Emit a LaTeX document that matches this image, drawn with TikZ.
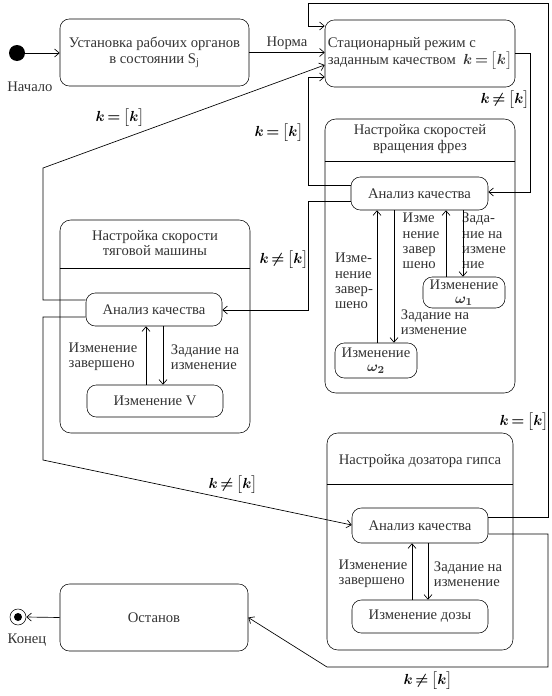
\documentclass[tikz,border=0pt]{standalone}
\usepackage{fontspec}
\setmainfont{Liberation Serif}
\usepackage{amsmath}
\usetikzlibrary{arrows.meta}
\newcommand{\keq}{{\boldmath$k\mkern-2mu=\mkern-2mu\bigl[k\bigr]$}}
\newcommand{\kne}{{\boldmath$k\mkern-2mu\neq\mkern-2mu\bigl[k\bigr]$}}

\begin{document}
\begin{tikzpicture}[x=0.75pt,y=0.75pt,yscale=-1,xscale=1,
  font=\fontsize{11}{11.5}\selectfont,
  state/.style={draw,rounded corners=7pt,inner sep=1pt,align=center,text=black!80},
  group/.style={draw,rounded corners=8pt},
  conn/.style={-{Straight Barb[length=3.5pt,width=6pt]},line width=0.5pt},
  lbl/.style={inner sep=0.75pt,align=left,text=black!80},
  guard/.style={inner sep=0.75pt}]
\useasboundingbox (0,0) rectangle (551,696);

% Initial and setup
\node[circle,fill,inner sep=0pt,minimum size=12pt] (start) at (17,53) {};
\node[lbl] (startlbl) at (30,87) {Начало};
\node[state,minimum width=141.75pt,minimum height=50.25pt] (setup) at (154.5,52.5) {Установка рабочих органов\\в состоянии S\textsubscript{j}};
\node[state,minimum width=142.5pt,minimum height=50.25pt,align=left] (steady) at (420,53.5) {Стационарный режим с\\заданным качеством\enspace\keq};

% Cutter speed group
\node[group,minimum width=142.5pt,minimum height=205.5pt] (cutgrp) at (420,256) {};
\node[lbl,align=center] (cutttl) at (420,139) {Настройка скоростей\\вращения фрез};
\draw (cutgrp.west |- 0,161) -- (cutgrp.east |- 0,161);
\node[state,minimum width=102.75pt,minimum height=24.75pt] (cutan) at (419.5,193.5) {Анализ качества};
\node[state,minimum width=61.5pt,minimum height=23.25pt,inner sep=0pt,
  font=\fontsize{11}{10.5}\selectfont] (om1) at (464,292.5) {Изменение\\{\boldmath$\omega_1$}};
\node[state,minimum width=61.5pt,minimum height=26.25pt,inner sep=0pt,
  font=\fontsize{11}{10.5}\selectfont] (om2) at (376,360.5) {Изменение\\{\boldmath$\omega_2$}};
\node[lbl] (om2done) at (354,281) {Изме-\\нение\\завер-\\шено};
\node[lbl] (om1done) at (421,241) {Изме\\нение\\завер\\шено};
\node[lbl] (om1set) at (484,241) {Зада-\\ние на\\измене\\ние};
\node[lbl] (om2set) at (435,322) {Задание на\\изменение};

% Traction machine group
\node[group,minimum width=142.5pt,minimum height=159.75pt] (tracgrp) at (155,326.5) {};
\node[lbl,align=center] (tracttl) at (155,243) {Настройка скорости\\тяговой машины};
\draw (tracgrp.west |- 0,268) -- (tracgrp.east |- 0,268);
\node[state,minimum width=102pt,minimum height=24.75pt] (tracan) at (154,309.5) {Анализ качества};
\node[state,minimum width=102pt,minimum height=24pt] (chgv) at (155,401) {Изменение V};
\node[lbl] (vdone) at (103,357) {Изменение\\завершено};
\node[lbl] (vset) at (205,357) {Задание на\\изменение};

% Gypsum dosing group
\node[group,minimum width=139.5pt,minimum height=162.75pt] (gypgrp) at (420,541.5) {};
\node[lbl] (gypttl) at (420,461) {Настройка дозатора гипса};
\draw (gypgrp.west |- 0,484) -- (gypgrp.east |- 0,484);
\node[state,minimum width=102pt,minimum height=26.25pt] (gypan) at (420,525.5) {Анализ качества};
\node[state,minimum width=102pt,minimum height=24.75pt] (dose) at (420,616.5) {Изменение дозы};
\node[lbl] (dosedone) at (373,574) {Изменение\\завершено};
\node[lbl] (doseset) at (468,574) {Задание на\\изменение};

% Stop and final
\node[state,minimum width=141pt,minimum height=50.25pt] (stop) at (154,617.5) {Останов};
\node[circle,draw,inner sep=0pt,minimum size=12pt] (finish) at (18,617) {};
\fill (finish) circle (4);
\node[lbl] (finishlbl) at (27,640) {Конец};

% Guard labels
\node[lbl] (normlbl) at (287,43) {Норма};
\node[guard] (kback) at (120,118) {\keq};
\node[guard] (kcutok) at (279,133) {\keq};
\node[guard] (ksteady) at (505,100) {\kne};
\node[guard] (kcutbad) at (284,260) {\kne};
\node[guard] (kgypok) at (524,422) {\keq};
\node[guard] (ktracbad) at (233,485) {\kne};
\node[guard] (kgypbad) at (428,681) {\kne};

% Transitions
\draw[conn] (start.east) -- (start.east -| setup.west);
\draw[conn] (setup.east) -- (setup.east -| steady.west);
\draw[conn] (gypan.east |- 0,517) -| (548,3) -| (308,26) -- (steady.west |- 0,26);
\draw[conn] (steady.east) -| (530,192) -- (cutan.east |- 0,192);
\draw[conn] (cutan.west |- 0,185) -| (308,77) -- (steady.west |- 0,77);
\draw[conn] (cutan.west |- 0,201) -| (308,310) -- (tracan.east |- 0,310);
\draw[conn] (tracan.west |- 0,300) -| (43,168) -- (steady.west |- 0,65);
\draw[conn] (tracan.west |- 0,317) -| (43,460) -- (gypan.west |- 0,525);
\draw[conn] (gypan.east |- 0,534) -| (548,667) -- (327,667) -- (stop.east);
\draw[conn] (stop.west) -- (finish.east);

% Inner transitions
\draw[conn] (463,0 |- cutan.south) -- (463,0 |- om1.north);
\draw[conn] (446,0 |- om1.north) -- (446,0 |- cutan.south);
\draw[conn] (394,0 |- cutan.south) -- (394,0 |- om2.north);
\draw[conn] (377,0 |- om2.north) -- (377,0 |- cutan.south);
\draw[conn] (163,0 |- tracan.south) -- (163,0 |- chgv.north);
\draw[conn] (146,0 |- chgv.north) -- (146,0 |- tracan.south);
\draw[conn] (428,0 |- gypan.south) -- (428,0 |- dose.north);
\draw[conn] (412,0 |- dose.north) -- (412,0 |- gypan.south);

\end{tikzpicture}
\end{document}
